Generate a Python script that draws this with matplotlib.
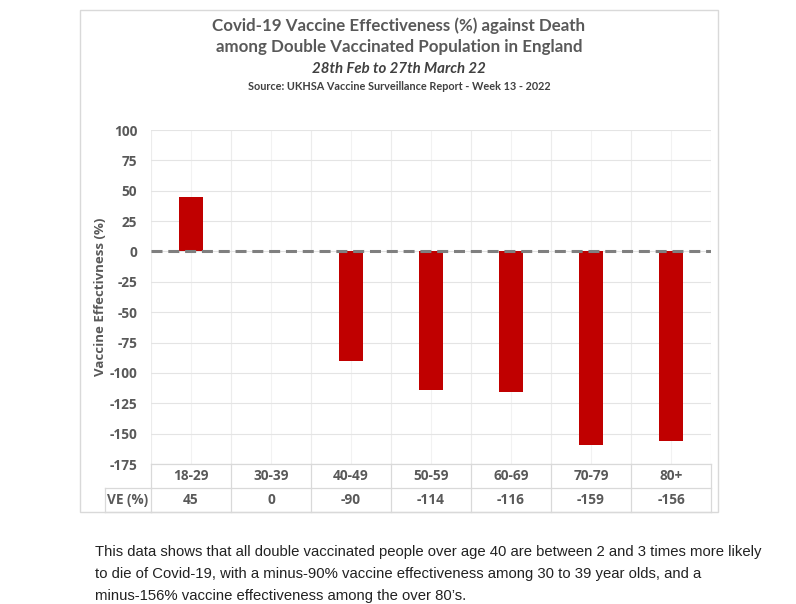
import numpy as np
import matplotlib.pyplot as plt
import matplotlib.transforms as mtransforms
from matplotlib.patches import Rectangle

age_groups = ["18-29", "30-39", "40-49", "50-59", "60-69", "70-79", "80+"]
ve_values = [45, 0, -90, -114, -116, -159, -156]
ve_labels = ["45", "0", "-90", "-114", "-116", "-159", "-156"]
y_ticks = [100, 75, 50, 25, 0, -25, -50, -75, -100, -125, -150, -175]

title_lines = [
    "Covid-19 Vaccine Effectiveness (%) against Death",
    "among Double Vaccinated Population in England",
]
subtitle = "28th Feb to 27th March 22"
source = "Source: UKHSA Vaccine Surveillance Report - Week 13 - 2022"
caption = [
    "This data shows that all double vaccinated people over age 40 are between 2 and 3 times more likely",
    "to die of Covid-19, with a minus-90% vaccine effectiveness among 30 to 39 year olds, and a",
    "minus-156% vaccine effectiveness among the over 80\u2019s.",
]

W, H = 796, 604
GREY = "#595959"
plt.rcParams['font.family'] = ['Lato', 'DejaVu Sans']
LABEL_FONT = ["Open Sans", "DejaVu Sans"]

fig = plt.figure(figsize=(W / 100, H / 100), dpi=100)
fig.patch.set_facecolor("white")

def fy(py):
    return 1 - py / H

# chart frame
fig.add_artist(Rectangle((80 / W, fy(512)), 638 / W, 502 / H, transform=fig.transFigure,
                         fill=False, edgecolor="#d9d9d9", lw=1))

# titles
fig.text(399 / W, fy(26), title_lines[0], ha="center", va="center", fontsize=12.2,
         fontweight="bold", color=GREY)
fig.text(399 / W, fy(47), title_lines[1], ha="center", va="center", fontsize=12.2,
         fontweight="bold", color=GREY)
fig.text(399 / W, fy(69), subtitle, ha="center", va="center", fontsize=10.8,
         fontweight="bold", fontstyle="italic", color="#404040")
fig.text(399 / W, fy(87), source, ha="center", va="center", fontsize=7.8,
         fontweight="bold", color="#404040")

ax = fig.add_axes([151 / W, fy(464), 560 / W, 334 / H])
x = np.arange(len(age_groups))
ax.bar(x, ve_values, width=0.31, color="#c00000", zorder=3)
ax.axhline(0, color="#7f7f7f", lw=2.2, ls=(0, (3.6, 1.9)), zorder=4)

ax.set_xlim(-0.5, len(age_groups) - 0.5)
ax.set_ylim(-175, 100)
ax.set_yticks(y_ticks, labels=[str(t) for t in y_ticks], fontweight="bold",
              fontsize=9.8, color=GREY, family=LABEL_FONT)
ax.set_xticks(np.arange(-0.5, len(age_groups), 1))
ax.set_xticks(x, minor=True)
ax.tick_params(axis="x", which="both", length=0, labelbottom=False)
ax.tick_params(axis="y", length=0, pad=10)
ax.grid(axis="y", color="#e4e4e4", lw=0.8, zorder=0)
ax.grid(axis="x", which="major", color="#ececec", lw=0.8, zorder=0)
ax.grid(axis="x", which="minor", color="#f2f2f2", lw=0.8, zorder=0)
for s in ax.spines.values():
    s.set_visible(False)

ax.set_ylabel("Vaccine Effectivness (%)", fontsize=9.5, fontweight="bold", color=GREY,
              family=LABEL_FONT)
ax.yaxis.set_label_coords((107 - 151) / 560, 0.5)

# data table below the axis
tr = mtransforms.blended_transform_factory(ax.transData, ax.transAxes)
row_h = 24 / 334
line_kw = dict(color="#d9d9d9", lw=0.9, clip_on=False)
for i in range(3):
    ax.plot([-0.5, len(age_groups) - 0.5], [-i * row_h, -i * row_h], transform=tr, **line_kw)
for b in np.arange(-0.5, len(age_groups), 1):
    ax.plot([b, b], [0, -2 * row_h], transform=tr, **line_kw)
left = (105 - 151) / 560
ax.plot([left, 0], [-row_h, -row_h], transform=ax.transAxes, **line_kw)
ax.plot([left, 0], [-2 * row_h, -2 * row_h], transform=ax.transAxes, **line_kw)
ax.plot([left, left], [-row_h, -2 * row_h], transform=ax.transAxes, **line_kw)
for xi, cat, ve in zip(x, age_groups, ve_labels):
    ax.text(xi, -0.5 * row_h, cat, transform=tr, ha="center", va="center",
            fontsize=9.8, fontweight="bold", color=GREY, family=LABEL_FONT)
    ax.text(xi, -1.5 * row_h, ve, transform=tr, ha="center", va="center",
            fontsize=9.8, fontweight="bold", color=GREY, family=LABEL_FONT)
ax.text(left / 2, -1.5 * row_h, "VE (%)", transform=ax.transAxes, ha="center", va="center",
        fontsize=9.8, fontweight="bold", color=GREY, family=LABEL_FONT)

# caption paragraph
for i, line in enumerate(caption):
    fig.text(95 / W, fy(552 + 22 * i), line, ha="left", va="center", fontsize=10.7,
             family=["Liberation Sans", "DejaVu Sans"], color="#222222")

fig.savefig("out.png", dpi=100, facecolor="white")
